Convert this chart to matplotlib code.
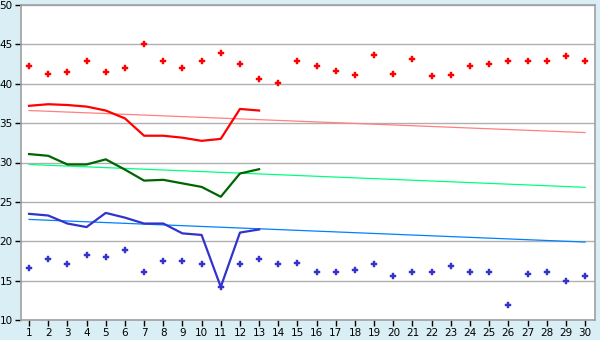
import matplotlib
matplotlib.use("Agg")
import matplotlib.pyplot as plt

days = list(range(1, 31))

red_points = [42.2, 41.2, 41.45, 42.85, 41.45, 41.95, 45.0, 42.85, 41.95, 42.85,
              43.85, 42.45, 40.55, 40.05, 42.95, 42.2, 41.6, 41.1, 43.6, 41.2,
              43.2, 40.95, 41.1, 42.2, 42.45, 42.85, 42.95, 42.85, 43.5, 42.85]
blue_points = [16.55, 17.8, 17.05, 18.3, 17.95, 18.85, 16.05, 17.45, 17.45, 17.05,
               14.2, 17.05, 17.8, 17.05, 17.2, 16.15, 16.15, 16.3, 17.05, 15.65,
               16.05, 16.05, 16.8, 16.05, 16.15, 11.85, 15.8, 16.15, 15.0, 15.65]

line_days = list(range(1, 14))
red_line = [37.2, 37.4, 37.3, 37.1, 36.6, 35.6, 33.4, 33.4, 33.15, 32.75, 33.0, 36.8, 36.6]
green_line = [31.07, 30.85, 29.75, 29.75, 30.4, 29.1, 27.7, 27.8, 27.35, 26.9, 25.65, 28.6, 29.15]
blue_line = [23.48, 23.27, 22.25, 21.8, 23.6, 23.0, 22.25, 22.25, 21.0, 20.8, 14.2, 21.1, 21.5]

trend_days = [1, 30]
red_trend = [36.6, 33.8]
green_trend = [29.75, 26.85]
blue_trend = [22.77, 19.9]

yticks = [10, 15, 20, 25, 30, 35, 40, 45, 50]

bg = "#d9eef5"
fig = plt.figure(figsize=(6, 3.4), dpi=100, facecolor=bg)
ax = fig.add_axes([21/600, 20/340, 574/600, 315/340])
ax.set_facecolor("white")

for y in yticks:
    ax.axhline(y, color="#b0b0b0", lw=1.0, zorder=1)

ax.plot(trend_days, red_trend, color="#ff8080", lw=0.9, zorder=2)
ax.plot(trend_days, green_trend, color="#00ff80", lw=0.9, zorder=2)
ax.plot(trend_days, blue_trend, color="#0080ff", lw=0.9, zorder=2)

ax.plot(line_days, red_line, color="#ff0000", lw=1.6, zorder=3)
ax.plot(line_days, green_line, color="#006400", lw=1.6, zorder=3)
ax.plot(line_days, blue_line, color="#3333cc", lw=1.6, zorder=3)

ax.plot(days, red_points, ls="none", marker="P", ms=3.8, color="#ff0000", mec="#ff0000", mew=0.3, zorder=4)
ax.plot(days, blue_points, ls="none", marker="P", ms=3.8, color="#3333cc", mec="#3333cc", mew=0.3, zorder=4)

ax.set_xlim(0.58, 30.52)
ax.set_ylim(10, 50)
ax.set_xticks(days)
ax.set_xticklabels([str(d) for d in days])
ax.set_yticks(yticks)
ax.set_yticklabels([str(y) for y in yticks])
ax.tick_params(axis="both", direction="out", length=4, width=1, color="#000000",
               labelsize=7.5, pad=2)
for side in ["top", "right", "left", "bottom"]:
    ax.spines[side].set_color("#a0a0a0")
    ax.spines[side].set_linewidth(1.2)

fig.savefig("out.png", dpi=100, facecolor=bg)
